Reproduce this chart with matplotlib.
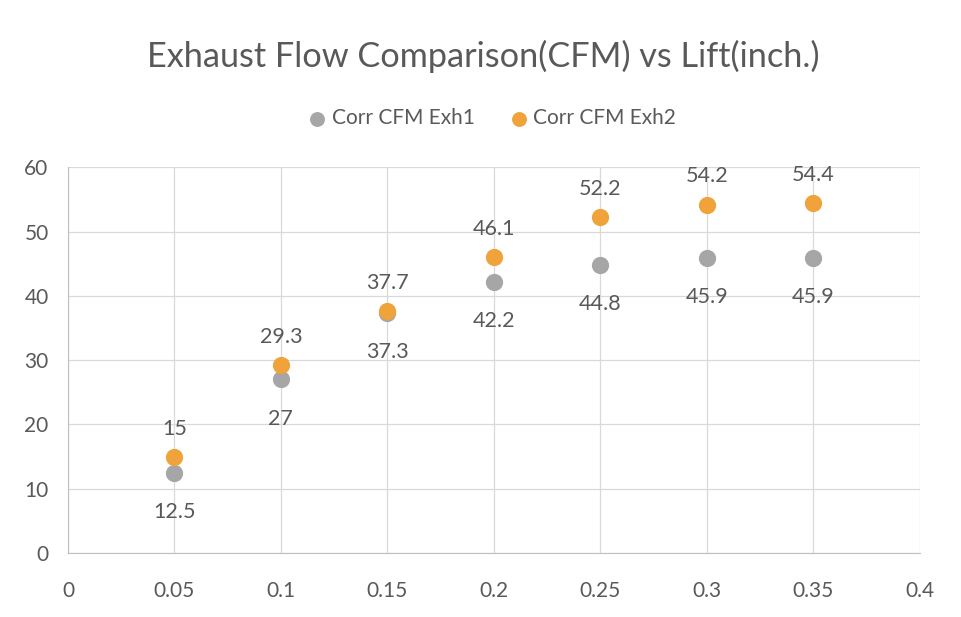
import matplotlib.pyplot as plt

# data
lift = [0.05, 0.1, 0.15, 0.2, 0.25, 0.3, 0.35]
exh1 = [12.5, 27, 37.3, 42.2, 44.8, 45.9, 45.9]
exh2 = [15, 29.3, 37.7, 46.1, 52.2, 54.2, 54.4]

x_ticks = [0, 0.05, 0.1, 0.15, 0.2, 0.25, 0.3, 0.35, 0.4]
x_tick_labels = ['0', '0.05', '0.1', '0.15', '0.2', '0.25', '0.3', '0.35', '0.4']
y_ticks = [0, 10, 20, 30, 40, 50, 60]

gray = '#A6A6A6'
orange = '#F0A33A'
text_col = '#595959'

plt.rcParams['font.family'] = ['Lato', 'DejaVu Sans']

fig = plt.figure(figsize=(9.62, 6.17), dpi=100)
ax = fig.add_axes([0.0707, 0.1037, 0.8853, 0.6253])

ax.scatter(lift, exh1, s=130, color=gray, zorder=3, label='Corr CFM Exh1')
ax.scatter(lift, exh2, s=130, color=orange, zorder=3, label='Corr CFM Exh2')

# data labels: Exh1 below, Exh2 above
for x, y in zip(lift, exh1):
    ax.annotate(f'{y:g}', (x, y), xytext=(0, -21), textcoords='offset points',
                ha='center', va='top', fontsize=15.5, color=text_col)
for x, y in zip(lift, exh2):
    ax.annotate(f'{y:g}', (x, y), xytext=(0, 13), textcoords='offset points',
                ha='center', va='bottom', fontsize=15.5, color=text_col)

ax.set_xlim(0, 0.4)
ax.set_ylim(0, 60)
ax.set_xticks(x_ticks)
ax.set_xticklabels(x_tick_labels)
ax.set_yticks(y_ticks)
ax.tick_params(length=0, labelsize=15, labelcolor=text_col)
ax.tick_params(axis='x', pad=20)
ax.tick_params(axis='y', pad=14)
ax.grid(True, color='#D9D9D9', linewidth=0.9)
ax.set_axisbelow(True)
for side in ['top', 'right']:
    ax.spines[side].set_visible(False)
for side in ['left', 'bottom']:
    ax.spines[side].set_color('#BFBFBF')

fig.text(0.502, 0.908, 'Exhaust Flow Comparison(CFM) vs Lift(inch.)',
         ha='center', va='center', fontsize=24.7, color=text_col)
fig.legend(loc='center', bbox_to_anchor=(0.512, 0.808), ncol=2, frameon=False,
           fontsize=15, labelcolor=text_col, handlelength=0.8, handletextpad=0.3,
           columnspacing=1.7, markerscale=0.85)

fig.savefig('out.png', dpi=100)
